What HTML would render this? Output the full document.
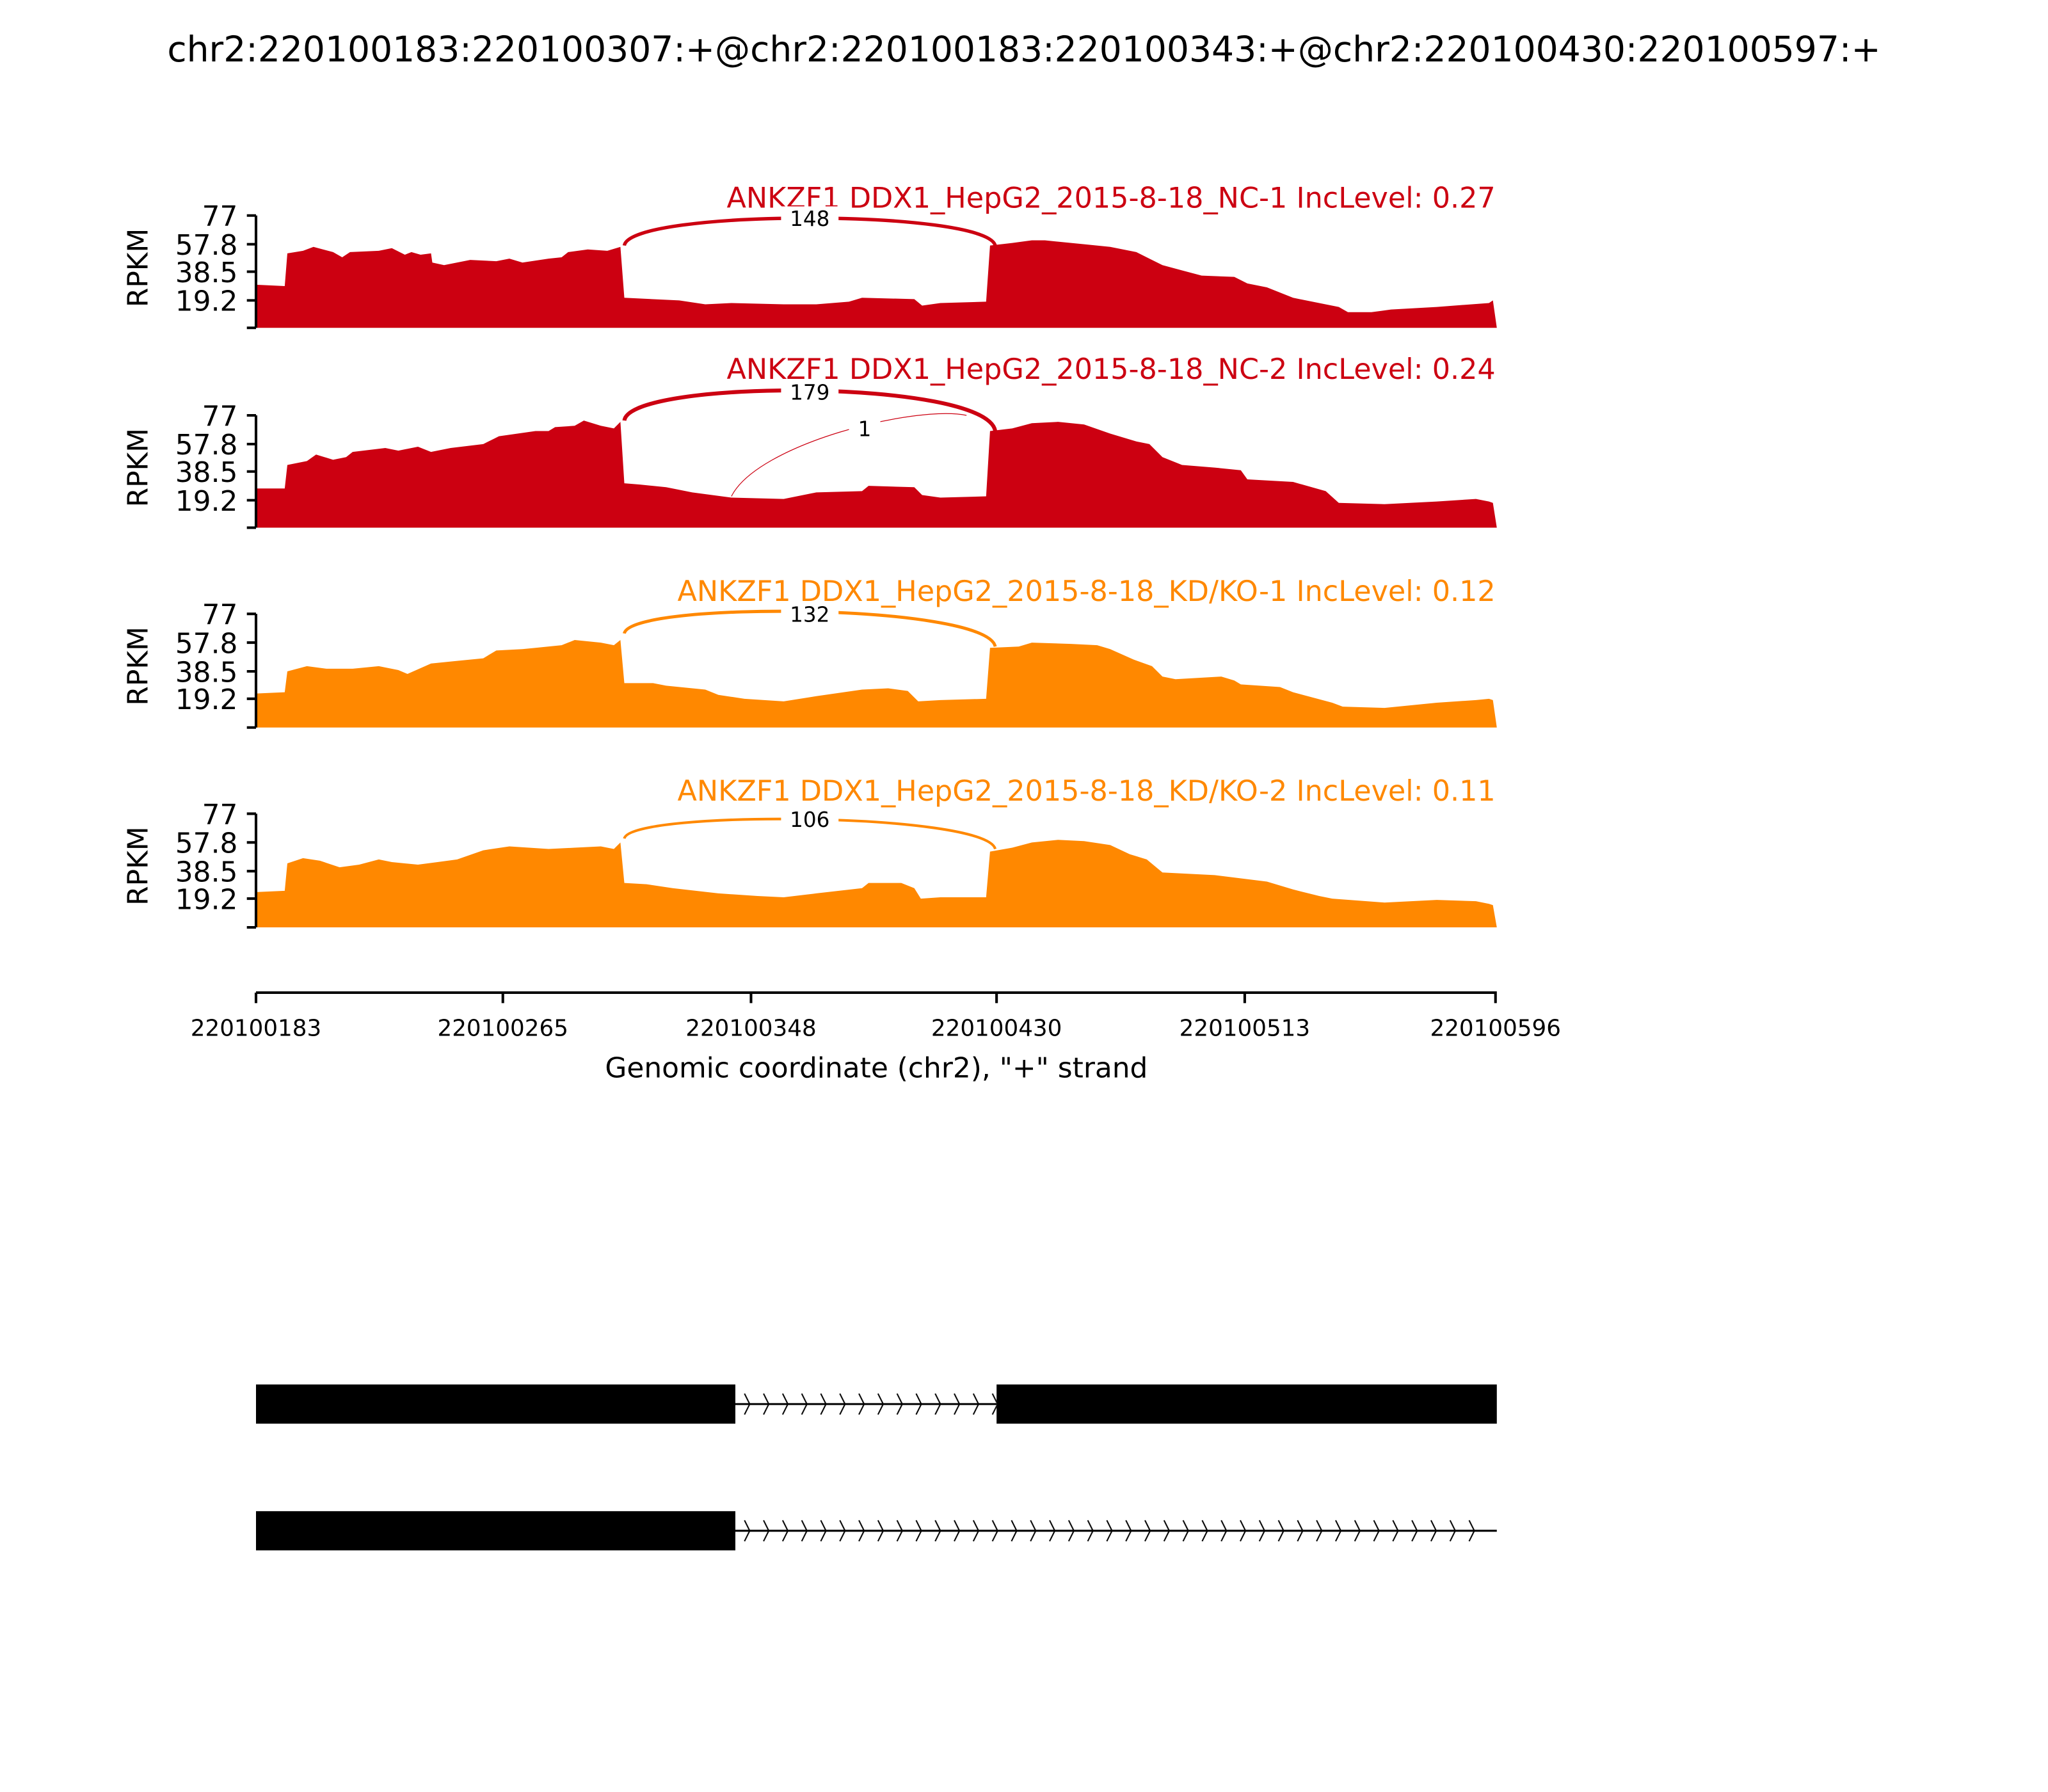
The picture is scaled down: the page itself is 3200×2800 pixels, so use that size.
<!DOCTYPE html>
<html><head><meta charset="utf-8"><style>html,body{margin:0;padding:0;background:#fff}svg{display:block}text{font-family:"DejaVu Sans","Liberation Sans",sans-serif}</style></head>
<body>
<svg width="3200" height="2800" viewBox="0 0 1568 1372" xmlns="http://www.w3.org/2000/svg">
<defs>
<pattern id="chev" x="563" y="1060" width="14.6" height="30" patternUnits="userSpaceOnUse">
<path d="M7 7 L11 15 L7 23" fill="none" stroke="#000" stroke-width="1"/>
</pattern>
</defs>
<text x="784" y="47" font-size="27" text-anchor="middle">chr2:220100183:220100307:+@chr2:220100183:220100343:+@chr2:220100430:220100597:+</text>

<!-- Panel 1 -->
<text x="1145" y="159" font-size="21.8" fill="#CC0011" text-anchor="end">ANKZF1 DDX1_HepG2_2015-8-18_NC-1 IncLevel: 0.27</text>
<polygon fill="#CC0011" points="196,251 196,218 218,219 220,194 232,192 240,189 255,193 262,197 268,193 290,192 300,190 310,195 315,193 322,195 330,194 331,201 340,203 360,199 380,200 390,198 400,201 420,198 430,197 435,193 450,191 465,192 475,189 478,228 520,230 540,233 560,232 600,233 625,233 650,231 660,228 700,229 706,234 720,232 755,231 758,188 775,186 790,184 800,184 830,187 850,189 870,193 880,198 890,203 905,207 920,211 945,212 955,217 970,220 990,228 1010,232 1025,235 1032,239 1050,239 1065,237 1100,235 1140,232 1143,230 1146,251"/>
<path d="M478 188 C 482 160, 755 160, 762 188" fill="none" stroke="#CC0011" stroke-width="2.6"/>
<rect x="598" y="158" width="44" height="17" fill="#fff"/>
<text x="620" y="173" font-size="16" text-anchor="middle">148</text>
<g stroke="#000" stroke-width="2" fill="none"><path d="M196 165 V251 M189 165 H196 M189 187 H196 M189 208 H196 M189 230 H196 M189 251 H196"/></g>
<g font-size="21.5" text-anchor="end"><text x="182" y="173">77</text><text x="182" y="195">57.8</text><text x="182" y="216">38.5</text><text x="182" y="238">19.2</text></g>
<text transform="translate(113,205) rotate(-90)" font-size="21.5" text-anchor="middle">RPKM</text>

<!-- Panel 2 -->
<text x="1145" y="290" font-size="21.8" fill="#CC0011" text-anchor="end">ANKZF1 DDX1_HepG2_2015-8-18_NC-2 IncLevel: 0.24</text>
<polygon fill="#CC0011" points="196,404 196,374 218,374 220,356 235,353 242,348 255,352 265,350 270,346 295,343 305,345 320,342 330,346 345,343 370,340 378,336 382,334 410,330 420,330 425,327 440,326 447,322 460,326 470,328 475,323 478,370 490,371 510,373 530,377 560,381 600,382 625,377 660,376 665,372 700,373 706,379 720,381 755,380 758,330 775,328 790,324 810,323 830,325 850,332 870,338 880,340 890,350 905,356 930,358 950,360 955,367 990,369 1015,376 1025,385 1060,386 1100,384 1130,382 1140,384 1143,385 1146,404"/>
<path d="M478 322 C 482 290, 755 290, 762 330" fill="none" stroke="#CC0011" stroke-width="3"/>
<path d="M560 380 C 580 340, 700 310, 740 318" fill="none" stroke="#CC0011" stroke-width="0.6"/>
<rect x="598" y="291" width="44" height="17" fill="#fff"/>
<text x="620" y="306" font-size="16" text-anchor="middle">179</text>
<rect x="650" y="319" width="24" height="18" fill="#fff"/>
<text x="662" y="334" font-size="16" text-anchor="middle">1</text>
<g stroke="#000" stroke-width="2" fill="none"><path d="M196 318 V404 M189 318 H196 M189 340 H196 M189 361 H196 M189 383 H196 M189 404 H196"/></g>
<g font-size="21.5" text-anchor="end"><text x="182" y="326">77</text><text x="182" y="348">57.8</text><text x="182" y="369">38.5</text><text x="182" y="391">19.2</text></g>
<text transform="translate(113,358) rotate(-90)" font-size="21.5" text-anchor="middle">RPKM</text>

<!-- Panel 3 -->
<text x="1145" y="460" font-size="21.8" fill="#FF8800" text-anchor="end">ANKZF1 DDX1_HepG2_2015-8-18_KD/KO-1 IncLevel: 0.12</text>
<polygon fill="#FF8800" points="557,557 196,557 196,531 218,530 220,514 235,510 250,512 270,512 290,510 305,513 312,516 330,508 350,506 370,504 380,498 400,497 410,496 430,494 440,490 460,492 470,494 475,490 478,523 500,523 510,525 540,528 550,532 570,535 600,537 625,533 660,528 680,527 695,529 703,537 720,536 755,535 758,496 780,495 790,492 820,493 840,494 850,497 868,505 882,510 890,518 900,520 935,518 945,521 950,524 980,526 990,530 1020,538 1028,541 1060,542 1100,538 1130,536 1140,535 1143,536 1146,557"/>
<path d="M478 485 C 482 460, 755 462, 762 495" fill="none" stroke="#FF8800" stroke-width="2.4"/>
<rect x="598" y="461" width="44" height="17" fill="#fff"/>
<text x="620" y="476" font-size="16" text-anchor="middle">132</text>
<g stroke="#000" stroke-width="2" fill="none"><path d="M196 470 V557 M189 470 H196 M189 492 H196 M189 514 H196 M189 535 H196 M189 557 H196"/></g>
<g font-size="21.5" text-anchor="end"><text x="182" y="478">77</text><text x="182" y="500">57.8</text><text x="182" y="522">38.5</text><text x="182" y="543">19.2</text></g>
<text transform="translate(113,510) rotate(-90)" font-size="21.5" text-anchor="middle">RPKM</text>

<!-- Panel 4 -->
<text x="1145" y="613" font-size="21.8" fill="#FF8800" text-anchor="end">ANKZF1 DDX1_HepG2_2015-8-18_KD/KO-2 IncLevel: 0.11</text>
<polygon fill="#FF8800" points="196,710 196,683 218,682 220,661 232,657 245,659 260,664 275,662 290,658 300,660 320,662 335,660 350,658 370,651 390,648 420,650 440,649 460,648 470,650 475,645 478,676 495,677 515,680 550,684 580,686 600,687 625,684 660,680 665,676 690,676 700,680 705,688 720,687 755,687 758,652 775,649 790,645 810,643 830,644 850,647 865,654 878,658 890,668 930,670 970,675 990,681 1010,686 1020,688 1060,691 1100,689 1130,690 1140,692 1143,693 1146,710"/>
<path d="M478 642 C 482 620, 755 622, 762 650" fill="none" stroke="#FF8800" stroke-width="2"/>
<rect x="598" y="618" width="44" height="17" fill="#fff"/>
<text x="620" y="633" font-size="16" text-anchor="middle">106</text>
<g stroke="#000" stroke-width="2" fill="none"><path d="M196 623 V710 M189 623 H196 M189 645 H196 M189 667 H196 M189 688 H196 M189 710 H196"/></g>
<g font-size="21.5" text-anchor="end"><text x="182" y="631">77</text><text x="182" y="653">57.8</text><text x="182" y="675">38.5</text><text x="182" y="696">19.2</text></g>
<text transform="translate(113,663) rotate(-90)" font-size="21.5" text-anchor="middle">RPKM</text>

<!-- X axis -->
<g stroke="#000" stroke-width="2" fill="none"><path d="M196 760 H1146 M196 760 V768 M385 760 V768 M575 760 V768 M763 760 V768 M953 760 V768 M1145 760 V768"/></g>
<g font-size="17.5" text-anchor="middle"><text x="196" y="793">220100183</text><text x="385" y="793">220100265</text><text x="575" y="793">220100348</text><text x="763" y="793">220100430</text><text x="953" y="793">220100513</text><text x="1145" y="793">220100596</text></g>
<text x="671" y="825" font-size="21.5" text-anchor="middle">Genomic coordinate (chr2), "+" strand</text>

<!-- Gene model -->
<line x1="563" y1="1075" x2="763" y2="1075" stroke="#000" stroke-width="1.5"/>
<rect x="563" y="1060" width="200" height="30" fill="url(#chev)"/>
<rect x="196" y="1060" width="367" height="30" fill="#000"/>
<rect x="763" y="1060" width="383" height="30" fill="#000"/>
<line x1="563" y1="1172" x2="1146" y2="1172" stroke="#000" stroke-width="1.5"/>
<g transform="translate(0,97)"><rect x="563" y="1060" width="574" height="30" fill="url(#chev)"/></g>
<rect x="196" y="1157" width="367" height="30" fill="#000"/>
</svg>
</body></html>
